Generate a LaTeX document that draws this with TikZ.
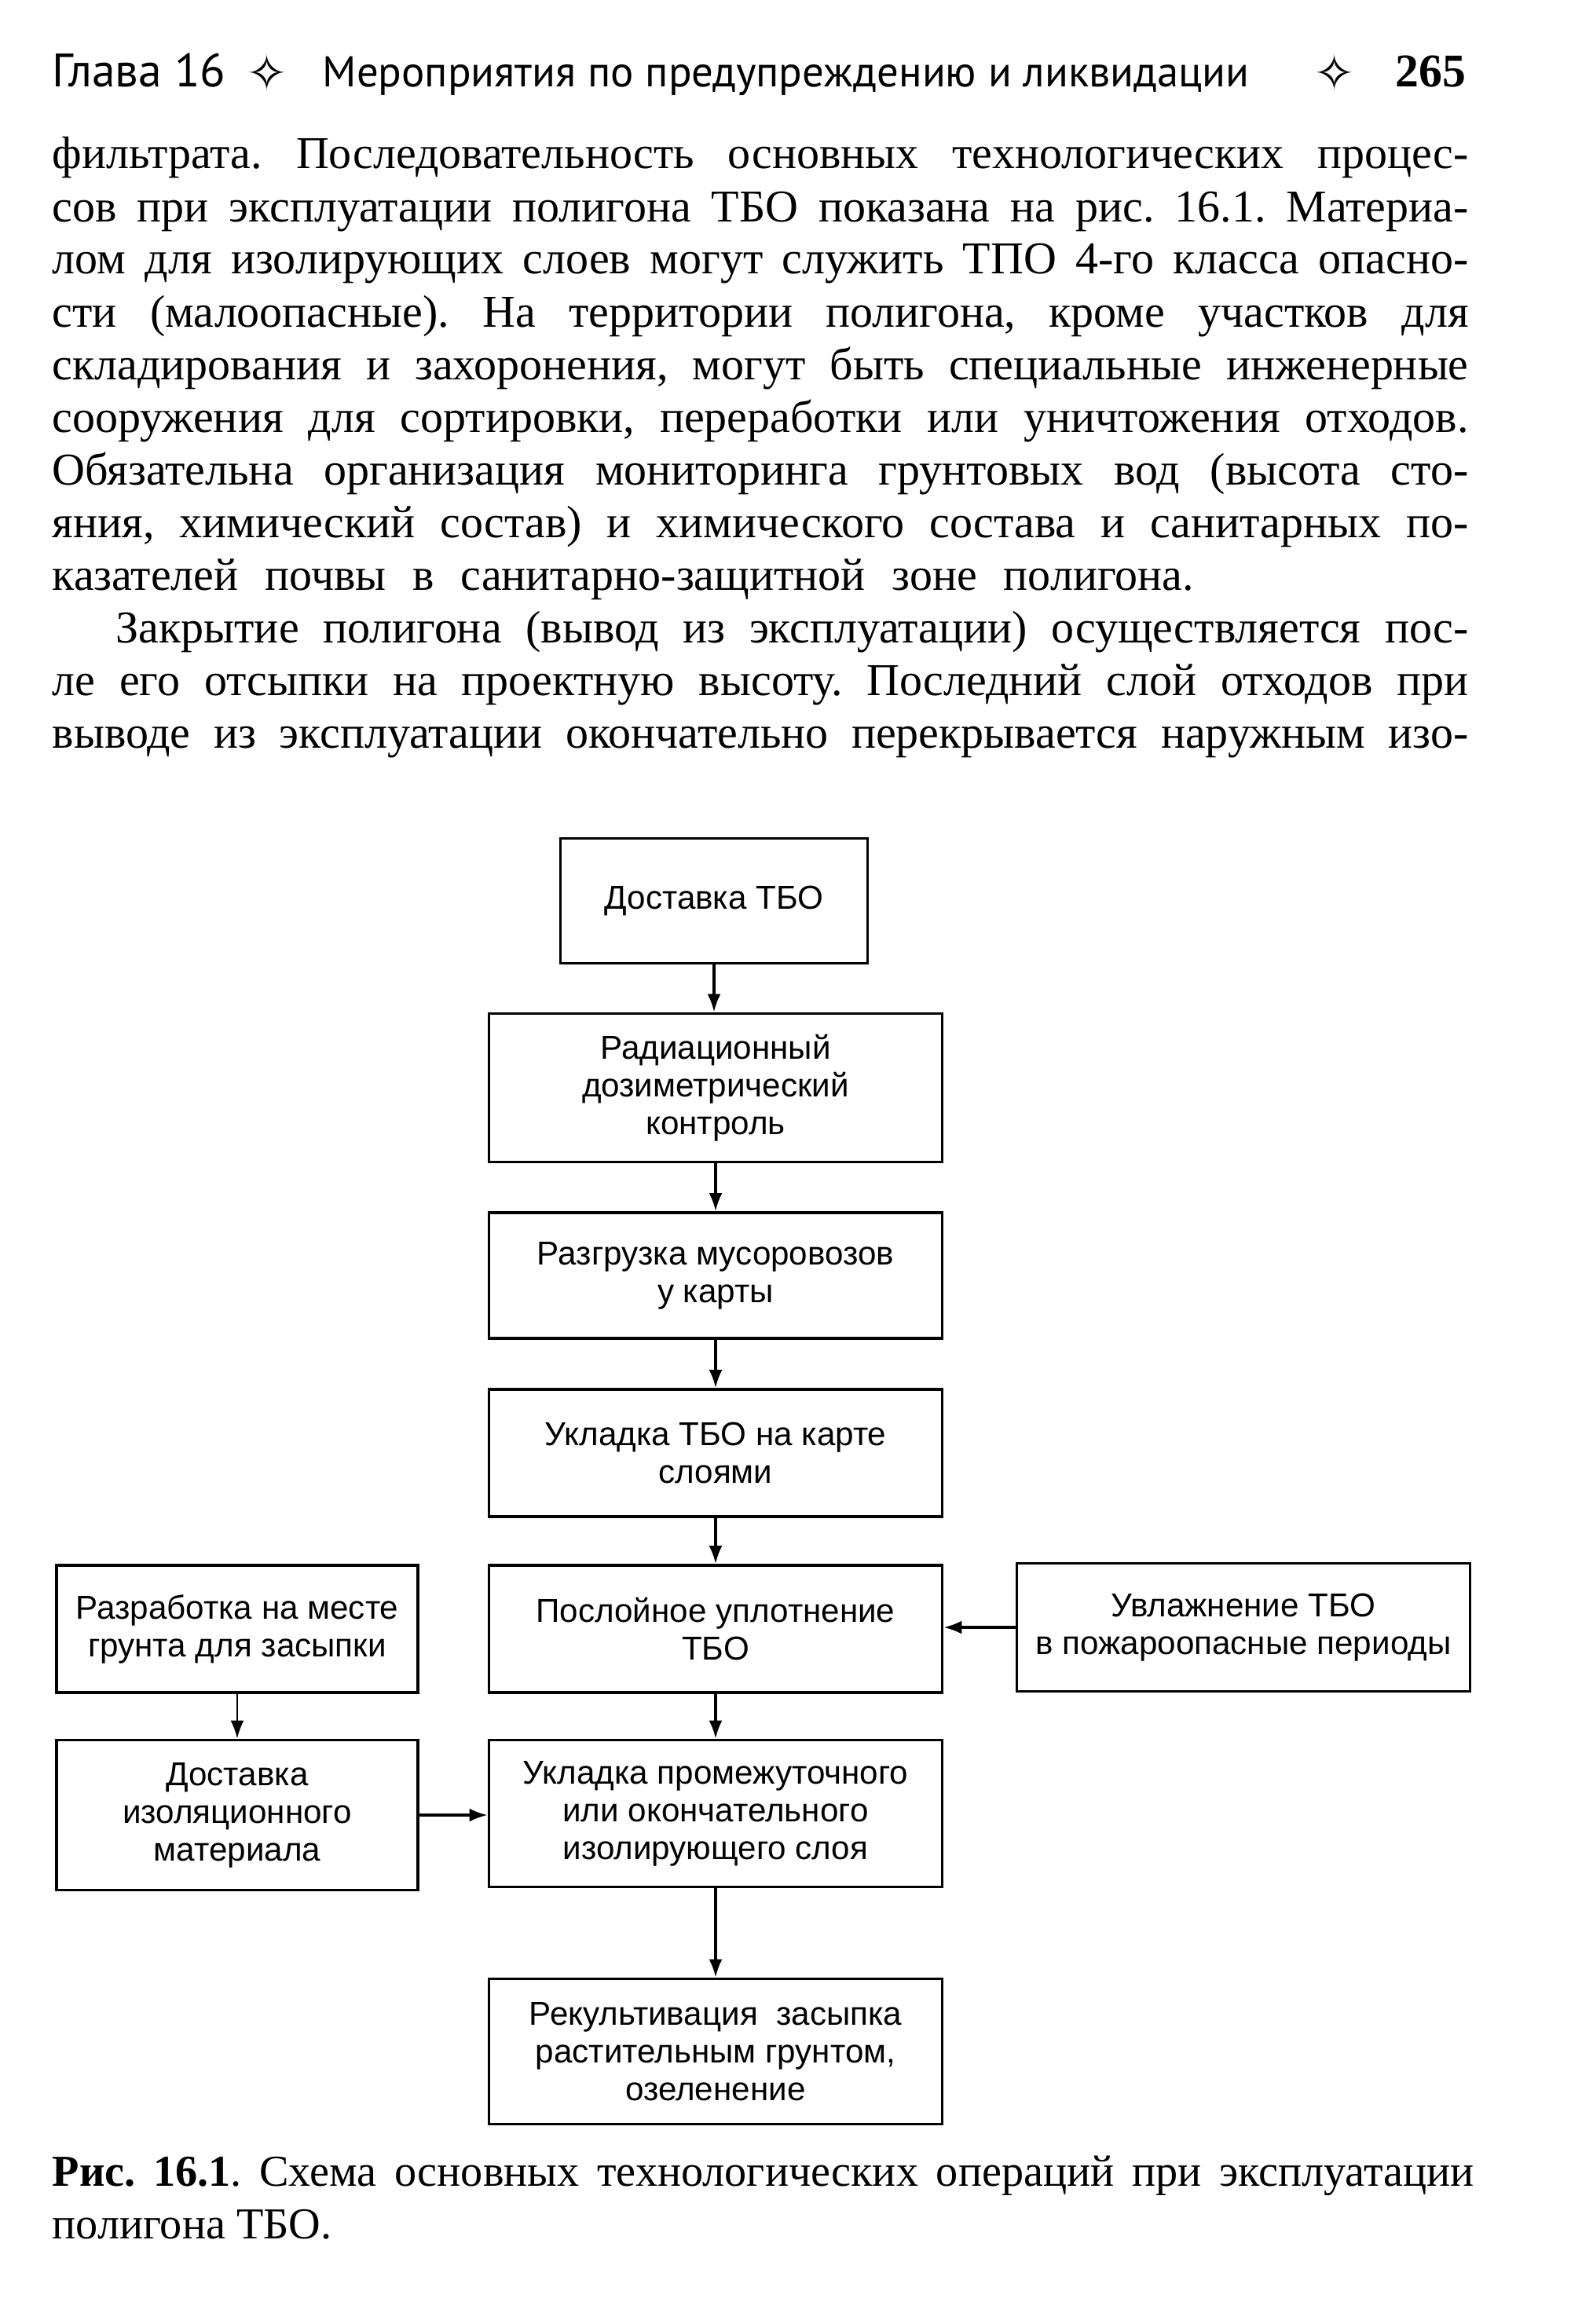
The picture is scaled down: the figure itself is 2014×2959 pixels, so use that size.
\documentclass[tikz,border=0pt]{standalone}
\usepackage{fontspec}
\setmainfont{Liberation Serif}
\newfontfamily\testata{PT Sans}
\newfontfamily\schema{Liberation Sans}
\newfontfamily\simboli{DejaVu Sans}
\usetikzlibrary{arrows.meta}
\newcommand{\riga}[2][18.03cm]{\makebox[#1][s]{#2}}
\frenchspacing

\begin{document}
\begin{tikzpicture}[x=0.1mm, y=-0.1mm,
    blocco/.style={draw, line width=1.1pt, inner sep=0pt, align=center, font=\schema\fontsize{12}{13.7}\selectfont},
    freccia/.style={-{Latex[length=2.3mm,width=1.7mm]}, line width=0.9pt},
    testo/.style={anchor=base west, inner sep=0pt, font=\fontsize{16.5}{19}\selectfont},
    didas/.style={anchor=base west, inner sep=0pt, font=\fontsize{16}{19}\selectfont}]
    \useasboundingbox (0,0) rectangle (2014,2959);
    %disegno intestazione
    \node[anchor=base west, inner sep=0pt, font=\testata\fontsize{17}{19}\selectfont] (h1) at (66,111) {Глава 16};
    \node[inner sep=0pt, font=\simboli\fontsize{18}{19}\selectfont] (h2) at (340,92) {✧};
    \node[anchor=base west, inner sep=0pt, font=\testata\fontsize{15.6}{19}\selectfont] (h3) at (410,111) {Мероприятия по предупреждению и ликвидации};
    \node[inner sep=0pt, font=\simboli\fontsize{18}{19}\selectfont] (h4) at (1699,92) {✧};
    \node[anchor=base east, inner sep=0pt, font=\bfseries\fontsize{17}{19}\selectfont] (h5) at (1867,111) {265};
    %%%%%%%%%%%%%%%%%%%%%%%%%%%%%%%%%%%%%%%%%%%%%%%%%%%%%%%%%%%%%%%%%%%%%%%%%%
    %disegno testo
    \node[testo] (t1) at (66,215) {\riga{фильтрата. Последовательность основных технологических процес-}};
    \node[testo] (t2) at (66,282) {\riga{сов при эксплуатации полигона ТБО показана на рис. 16.1. Материа-}};
    \node[testo] (t3) at (66,349) {\riga{лом для изолирующих слоев могут служить ТПО 4-го класса опасно-}};
    \node[testo] (t4) at (66,416) {\riga{сти (малоопасные). На территории полигона, кроме участков для}};
    \node[testo] (t5) at (66,483) {\riga{складирования и захоронения, могут быть специальные инженерные}};
    \node[testo] (t6) at (66,550) {\riga{сооружения для сортировки, переработки или уничтожения отходов.}};
    \node[testo] (t7) at (66,617) {\riga{Обязательна организация мониторинга грунтовых вод (высота сто-}};
    \node[testo] (t8) at (66,684) {\riga{яния, химический состав) и химического состава и санитарных по-}};
    \node[testo] (t9) at (66,751) {\riga[14.53cm]{казателей почвы в санитарно-защитной зоне полигона.}};
    \node[testo] (t10) at (147,818) {\riga[17.22cm]{Закрытие полигона (вывод из эксплуатации) осуществляется пос-}};
    \node[testo] (t11) at (66,885) {\riga{ле его отсыпки на проектную высоту. Последний слой отходов при}};
    \node[testo] (t12) at (66,952) {\riga{выводе из эксплуатации окончательно перекрывается наружным изо-}};
    %%%%%%%%%%%%%%%%%%%%%%%%%%%%%%%%%%%%%%%%%%%%%%%%%%%%%%%%%%%%%%%%%%%%%%%%%%
    %disegno colonna centrale
    \node[blocco, minimum width=39.1mm, minimum height=15.9mm] (dostavka) at (909,1147) {Доставка ТБО};
    \node[blocco, minimum width=57.7mm, minimum height=18.9mm] (radiacia) at (911,1385) {Радиационный\\дозиметрический\\контроль};
    \node[blocco, minimum width=57.7mm, minimum height=16mm] (razgruzka) at (911,1624) {Разгрузка мусоровозов\\у карты};
    \node[blocco, minimum width=57.7mm, minimum height=16.2mm] (ukladka) at (911,1850) {Укладка ТБО на карте\\слоями};
    \node[blocco, minimum width=57.7mm, minimum height=16.2mm] (uplotnenie) at (911,2074) {Послойное уплотнение\\ТБО};
    \node[blocco, minimum width=57.7mm, minimum height=18.7mm] (izol) at (911,2309) {Укладка промежуточного\\или окончательного\\изолирующего слоя};
    \node[blocco, minimum width=57.7mm, minimum height=18.5mm] (rekult) at (911,2612) {Рекультивация\ \ засыпка\\растительным грунтом,\\озеленение};
    %disegno colonna sinistra
    \node[blocco, minimum width=46mm, minimum height=16.2mm] (razrabotka) at (302,2074) {Разработка на месте\\грунта для засыпки};
    \node[blocco, minimum width=46mm, minimum height=19.1mm] (dostizol) at (302,2311) {Доставка\\изоляционного\\материала};
    %disegno blocco destro
    \node[blocco, minimum width=57.7mm, minimum height=16.3mm] (uvlazh) at (1583,2072) {Увлажнение ТБО\\в пожароопасные периоды};
    %%%%%%%%%%%%%%%%%%%%%%%%%%%%%%%%%%%%%%%%%%%%%%%%%%%%%%%%%%%%%%%%%%%%%%%%%%
    %disegno frecce
    \draw[freccia] (dostavka.south) -- (dostavka.south |- radiacia.north);
    \draw[freccia] (radiacia) -- (razgruzka);
    \draw[freccia] (razgruzka) -- (ukladka);
    \draw[freccia] (ukladka) -- (uplotnenie);
    \draw[freccia] (uplotnenie) -- (izol);
    \draw[freccia] (izol) -- (rekult);
    \draw[freccia, line width=0.7pt] (razrabotka) -- (dostizol);
    \draw[freccia] (dostizol.east) -- (dostizol.east -| izol.west);
    \draw[freccia] (uvlazh.west) -- (uvlazh.west -| uplotnenie.east);
    %%%%%%%%%%%%%%%%%%%%%%%%%%%%%%%%%%%%%%%%%%%%%%%%%%%%%%%%%%%%%%%%%%%%%%%%%%
    %disegno didascalia
    \node[didas] (c1) at (66,2783) {\riga[18.1cm]{\textbf{Рис. 16.1}. Схема основных технологических операций при эксплуатации}};
    \node[didas] (c2) at (66,2850) {полигона ТБО.};
\end{tikzpicture}
\end{document}
